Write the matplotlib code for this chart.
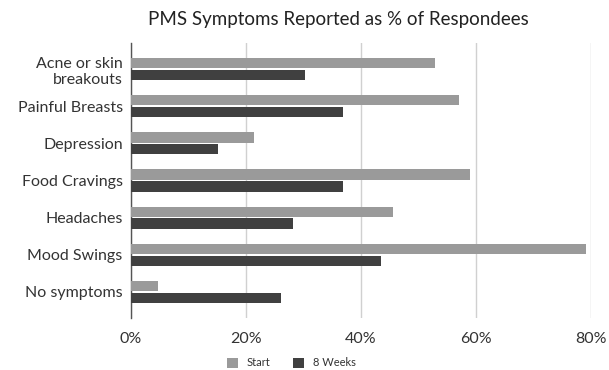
import numpy as np
import matplotlib
matplotlib.use("Agg")
import matplotlib.pyplot as plt
from matplotlib.ticker import PercentFormatter

plt.rcParams['font.family'] = ['Lato', 'DejaVu Sans']

categories = ['Acne or skin\nbreakouts', 'Painful Breasts', 'Depression',
              'Food Cravings', 'Headaches', 'Mood Swings', 'No symptoms']
start = [52.9, 57.0, 21.4, 59.0, 45.6, 79.2, 4.7]
weeks8 = [30.3, 36.9, 15.1, 36.9, 28.1, 43.4, 26.1]

fig = plt.figure(figsize=(6.09, 3.70), dpi=100)
ax = fig.add_axes([131 / 609, 1 - 318 / 370, 460 / 609, 275 / 370])

y = np.arange(len(categories))
h = 0.28
ax.barh(y - h / 2 - 0.02, start, height=h, color='#9a9a9a', label='Start', zorder=3)
ax.barh(y + h / 2 + 0.02, weeks8, height=h, color='#404040', label='8 Weeks', zorder=3)

ax.set_ylim(6.7, -0.7)
ax.set_xlim(0, 80)
ax.set_xticks([0, 20, 40, 60, 80])
ax.xaxis.set_major_formatter(PercentFormatter(decimals=0))
ax.set_yticks(y)
ax.set_yticklabels(categories, fontsize=11.5, color='#333333', linespacing=1.2)
ax.tick_params(axis='x', labelsize=11.5, colors='#333333', length=0, pad=10)
ax.tick_params(axis='y', length=0, pad=6)

ax.grid(axis='x', color='#d0d0d0', linewidth=1, zorder=0)
for s in ['top', 'right', 'bottom']:
    ax.spines[s].set_visible(False)
ax.spines['left'].set_color('#555555')
ax.spines['left'].set_linewidth(1)

fig.text(338 / 609, 1 - 20 / 370, 'PMS Symptoms Reported as % of Respondees',
         ha='center', va='center', fontsize=13.5, color='#222222')

fig.legend(loc='center', bbox_to_anchor=(291 / 609, 1 - 363 / 370), ncol=2, frameon=False,
           fontsize=8, handlelength=1.0, handleheight=1.0, handletextpad=0.8,
           columnspacing=2.0, labelcolor='#333333')

fig.savefig('out.png', dpi=100, facecolor='white')
